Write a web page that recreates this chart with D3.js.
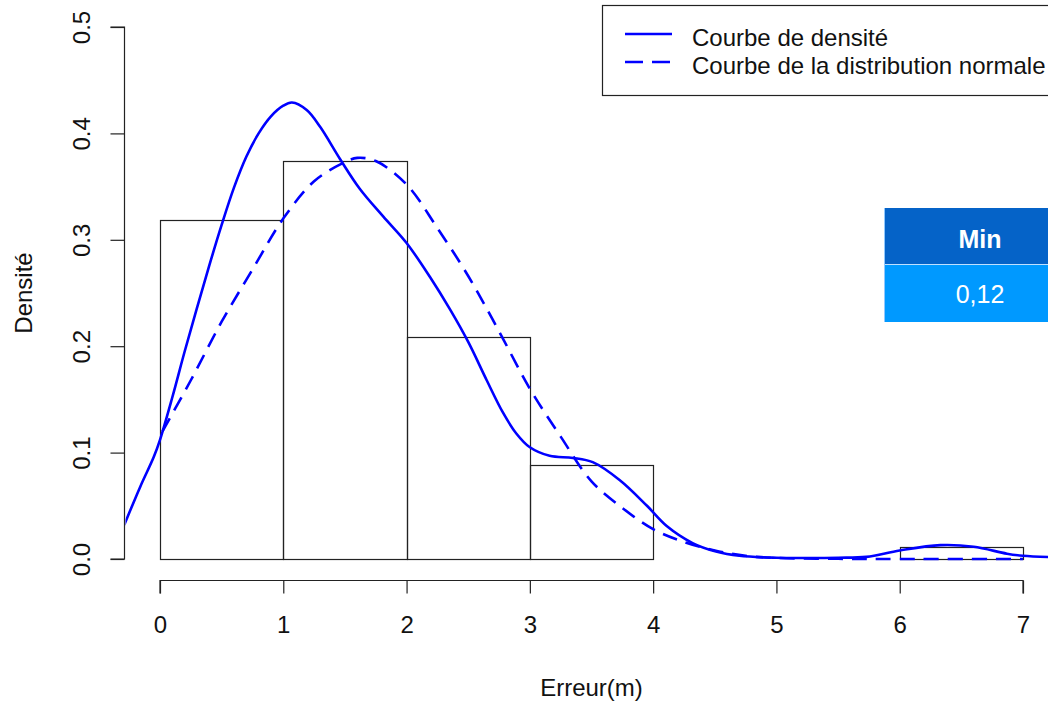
<!DOCTYPE html>
<html>
<head>
<meta charset="utf-8">
<script src="https://cdn.jsdelivr.net/npm/d3@7"></script>
<style>
  body { margin: 0; background: #fff; }
  svg { display: block; font-family: "Liberation Sans", Arial, sans-serif; }
</style>
</head>
<body>
<div id="chart"></div>
<script>
// Histogram bins (density)
const binEdges = [0, 1, 2, 3, 4, 5, 6, 7];
const binDensity = [0.319, 0.374, 0.209, 0.088, 0, 0, 0.011];

// Kernel density curve
const kdeX = [-0.29, -0.16, -0.05, 0, 0.1, 0.2, 0.3, 0.4, 0.5, 0.6, 0.7, 0.8, 0.9, 1.0, 1.07,
  1.19, 1.30, 1.46, 1.62, 1.81, 2.0, 2.19, 2.35, 2.5, 2.65, 2.78, 2.89, 3.0, 3.16, 3.35, 3.51,
  3.73, 3.95, 4.11, 4.32, 4.51, 4.70, 5.0, 5.24, 5.5, 5.73, 6.0, 6.33, 6.6, 6.87, 7.0, 7.3];
const kdeY = [0.032, 0.068, 0.096, 0.112, 0.152, 0.195, 0.236, 0.276, 0.314, 0.349, 0.378, 0.400, 0.416, 0.426, 0.429,
  0.422, 0.406, 0.376, 0.348, 0.322, 0.297, 0.265, 0.235, 0.204, 0.168, 0.138, 0.118, 0.105, 0.097, 0.095, 0.091,
  0.074, 0.050, 0.031, 0.015, 0.007, 0.003, 0.0012, 0.001, 0.0012, 0.002, 0.008, 0.013, 0.0115, 0.005, 0.003, 0.0015];

// Normal distribution curve
const normX = [0.02, 0.25, 0.5, 0.75, 1.0, 1.25, 1.5, 1.6, 1.75, 2.0, 2.25, 2.5, 2.75, 3.0, 3.25,
  3.5, 3.75, 4.0, 4.25, 4.5, 4.75, 5.0, 5.5, 6.0, 7.0];
const normY = [0.120, 0.168, 0.223, 0.272, 0.320, 0.355, 0.373, 0.377, 0.374, 0.352, 0.311, 0.266, 0.214, 0.160, 0.115,
  0.073, 0.048, 0.028, 0.016, 0.008, 0.003, 0.001, 0.0002, 0, 0];

const xTicks = [0, 1, 2, 3, 4, 5, 6, 7];
const yTicks = [0, 0.1, 0.2, 0.3, 0.4, 0.5];
const legendLabels = ["Courbe de densité", "Courbe de la distribution normale"];
const tableHeader = "Min";
const tableValue = "0,12";

const W = 1048, H = 702;

// scales: 0 -> 160px, 7 -> 1023px ; 0 -> 559px, 0.5 -> 27px
const x = d3.scaleLinear().domain([0, 7]).range([160, 1023]);
const y = d3.scaleLinear().domain([0, 0.5]).range([559, 27]);

// plot region (R style 4% extension)
const px0 = x(-0.28), px1 = x(7.28);
const py0 = y(0.52), py1 = y(-0.02);

const svg = d3.select("#chart").append("svg")
  .attr("width", W)
  .attr("height", H);

svg.append("defs").append("clipPath").attr("id", "plotClip")
  .append("rect")
  .attr("x", px0).attr("y", py0)
  .attr("width", px1 - px0).attr("height", py1 - py0);

// --- histogram bars ---
const bins = binDensity.map((d, i) => ({ x0: binEdges[i], x1: binEdges[i + 1], d: d }));
svg.append("g").selectAll("rect")
  .data(bins)
  .enter()
  .append("rect")
  .attr("x", d => Math.round(x(d.x0)) + 0.5)
  .attr("y", d => Math.round(y(d.d)) + 0.5)
  .attr("width", d => Math.round(x(d.x1)) - Math.round(x(d.x0)))
  .attr("height", d => Math.round(y(0)) - Math.round(y(d.d)))
  .attr("fill", "none")
  .attr("stroke", "#222")
  .attr("stroke-width", 1.2);

// --- curves ---
const line = d3.line()
  .x(d => x(d[0]))
  .y(d => y(d[1]))
  .curve(d3.curveCatmullRom.alpha(0.5));

const curves = svg.append("g").attr("clip-path", "url(#plotClip)");

curves.append("path")
  .datum(kdeX.map((v, i) => [v, kdeY[i]]))
  .attr("d", line)
  .attr("fill", "none")
  .attr("stroke", "#0000ff")
  .attr("stroke-width", 2.6);

curves.append("path")
  .datum(normX.map((v, i) => [v, normY[i]]))
  .attr("d", line)
  .attr("fill", "none")
  .attr("stroke", "#0000ff")
  .attr("stroke-width", 2.6)
  .attr("stroke-dasharray", "15,9");

// --- axes (R base style) ---
const xAxis = svg.append("g")
  .attr("transform", `translate(0,${Math.round(py1) + 0.5})`)
  .call(d3.axisBottom(x).tickValues(xTicks).tickSize(13).tickPadding(22).tickFormat(d3.format("d")));

const yAxis = svg.append("g")
  .attr("transform", `translate(${Math.round(px0) - 0.5},0)`)
  .call(d3.axisLeft(y).tickValues(yTicks).tickSize(14).tickFormat(d3.format(".1f")));

[xAxis, yAxis].forEach(g => {
  g.select(".domain").attr("stroke", "#222").attr("stroke-width", 1.2);
  g.selectAll(".tick line").attr("stroke", "#222").attr("stroke-width", 1.2);
  g.selectAll("text").attr("fill", "#111").attr("font-size", 24)
    .attr("font-family", "'Liberation Sans', Arial, sans-serif");
});
// R draws the axis line only between the extreme ticks
xAxis.select(".domain").attr("d", `M${x(0)},13V0H${x(7)}V13`);
yAxis.select(".domain").attr("d", `M-14,${y(0)}H0V${y(0.5)}H-14`);

// y tick labels parallel to the axis
yAxis.selectAll(".tick text")
  .attr("x", null).attr("dy", null)
  .attr("text-anchor", "middle")
  .attr("transform", "translate(-35,0) rotate(-90)");

// axis titles
svg.append("text")
  .attr("x", (px0 + px1) / 2)
  .attr("y", 696)
  .attr("text-anchor", "middle")
  .attr("font-size", 24)
  .attr("fill", "#111")
  .text("Erreur(m)");

svg.append("text")
  .attr("transform", `translate(32,${(py0 + py1) / 2}) rotate(-90)`)
  .attr("text-anchor", "middle")
  .attr("font-size", 24)
  .attr("fill", "#111")
  .text("Densité");

// --- legend ---
const legend = svg.append("g");
legend.append("rect")
  .attr("x", 602.5).attr("y", 5.5)
  .attr("width", 520).attr("height", 90)
  .attr("fill", "#fff")
  .attr("stroke", "#222")
  .attr("stroke-width", 1.2);

legendLabels.forEach((lab, i) => {
  const ly = 34 + i * 28;
  legend.append("line")
    .attr("x1", 625).attr("x2", 672)
    .attr("y1", ly).attr("y2", ly)
    .attr("stroke", "#0000ff")
    .attr("stroke-width", 2.6)
    .attr("stroke-dasharray", i === 1 ? "18,9" : null);
  legend.append("text")
    .attr("x", 692)
    .attr("y", ly + 12)
    .attr("font-size", 24)
    .attr("fill", "#111")
    .text(lab);
});

// --- small table (Min) ---
const table = svg.append("g");
table.append("rect")
  .attr("x", 884).attr("y", 208)
  .attr("width", 192).attr("height", 56)
  .attr("fill", "#0563c8");
table.append("rect")
  .attr("x", 884).attr("y", 265)
  .attr("width", 192).attr("height", 57)
  .attr("fill", "#0099ff");
table.append("line")
  .attr("x1", 884).attr("x2", 1076)
  .attr("y1", 264.5).attr("y2", 264.5)
  .attr("stroke", "#bfe0ff").attr("stroke-width", 1);
table.append("line")
  .attr("x1", 884.5).attr("x2", 884.5)
  .attr("y1", 208).attr("y2", 322)
  .attr("stroke", "#8fc8ff").attr("stroke-width", 1);
table.append("text")
  .attr("x", 980).attr("y", 248)
  .attr("text-anchor", "middle")
  .attr("font-size", 25)
  .attr("font-weight", "bold")
  .attr("fill", "#fff")
  .text(tableHeader);
table.append("text")
  .attr("x", 980).attr("y", 303)
  .attr("text-anchor", "middle")
  .attr("font-size", 25)
  .attr("fill", "#fff")
  .text(tableValue);
</script>
</body>
</html>
